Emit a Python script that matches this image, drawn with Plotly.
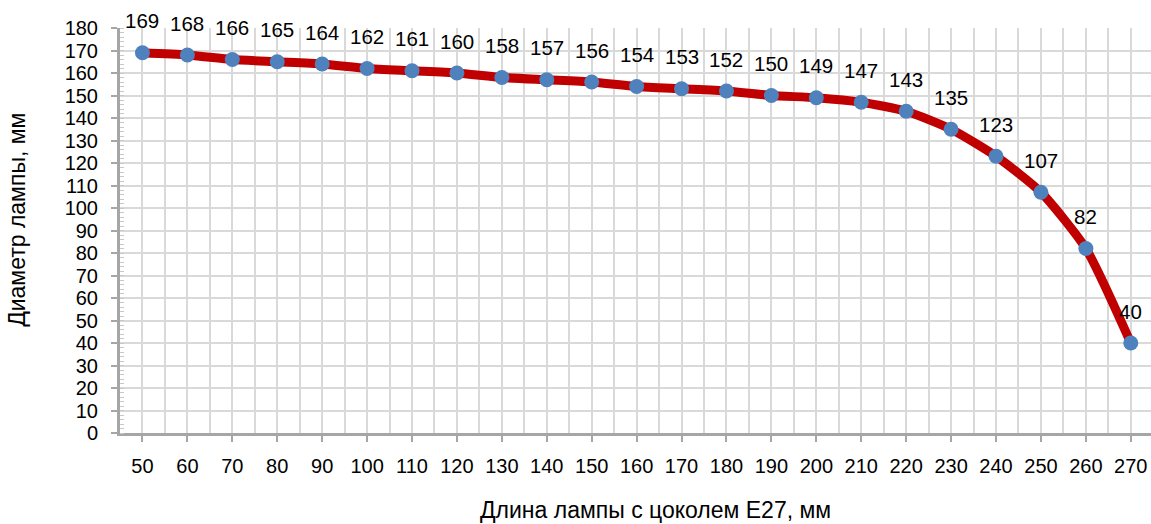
import plotly.graph_objects as go

lengths = [50, 60, 70, 80, 90, 100, 110, 120, 130, 140, 150, 160, 170, 180, 190, 200, 210, 220, 230, 240, 250, 260, 270]
diameters = [169, 168, 166, 165, 164, 162, 161, 160, 158, 157, 156, 154, 153, 152, 150, 149, 147, 143, 135, 123, 107, 82, 40]
x_title = "Длина лампы с цоколем E27, мм"
y_title = "Диаметр лампы, мм"

FONT = "Liberation Sans, Arial, Helvetica, sans-serif"

fig = go.Figure()
fig.add_trace(go.Scatter(
    x=lengths, y=diameters, mode="lines+markers",
    line=dict(color="#c00000", width=9, shape="spline", smoothing=0.6),
    marker=dict(color="#4f81bd", size=15),
    cliponaxis=False, showlegend=False, hoverinfo="x+y",
))

for xv, yv in zip(lengths, diameters):
    fig.add_annotation(x=xv, y=yv, text=str(yv), showarrow=False,
                       xanchor="center", yanchor="middle", yshift=32,
                       font=dict(family=FONT, size=20.5, color="#000"))

fig.add_annotation(xref="paper", yref="paper", x=0.519, y=-0.19, text=x_title,
                   showarrow=False, xanchor="center", yanchor="middle",
                   font=dict(family=FONT, size=23, color="#000"))
fig.add_annotation(xref="paper", yref="paper", x=-0.1, y=0.526, text=y_title,
                   showarrow=False, xanchor="center", yanchor="middle", textangle=-90,
                   font=dict(family=FONT, size=23, color="#000"))

fig.update_layout(
    width=1151, height=524,
    margin=dict(l=120, r=0, t=28, b=91),
    paper_bgcolor="white", plot_bgcolor="white",
    font=dict(family=FONT, size=20, color="#000"),
)
fig.update_xaxes(
    range=[45, 274.5], tickmode="array", tickvals=lengths,
    showgrid=True, gridcolor="#d9d9d9", gridwidth=1.5,
    minor=dict(dtick=5, tick0=45, showgrid=True, gridcolor="#d9d9d9", gridwidth=1.5, ticks=""),
    showline=True, linecolor="#a6a6a6", linewidth=3,
    ticks="outside", ticklen=6, tickcolor="#a6a6a6", tickwidth=2,
    ticklabelstandoff=7, zeroline=False,
)
fig.update_yaxes(
    range=[0, 180], dtick=10,
    showgrid=True, gridcolor="#d9d9d9", gridwidth=1.5,
    minor=dict(dtick=2, ticks="inside", ticklen=4, tickcolor="#c8c8c8", tickwidth=1, showgrid=False),
    showline=True, linecolor="#a6a6a6", linewidth=3,
    ticks="outside", ticklen=6, tickcolor="#a6a6a6", tickwidth=2,
    ticklabelstandoff=9, zeroline=False,
)

fig.write_html("out.html")
